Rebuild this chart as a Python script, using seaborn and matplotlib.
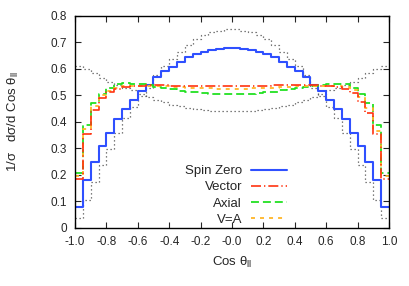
import numpy as np
import matplotlib
matplotlib.use("Agg")
import matplotlib.pyplot as plt
import seaborn as sns

# 40 bins of width 0.05 on [-1, 1]
bin_edges = np.linspace(-1.0, 1.0, 41)

spin_zero = [0.080, 0.180, 0.250, 0.310, 0.360, 0.410, 0.450, 0.483, 0.518, 0.540,
             0.569, 0.592, 0.609, 0.628, 0.644, 0.657, 0.665, 0.672, 0.677, 0.680,
             0.680, 0.677, 0.672, 0.665, 0.657, 0.644, 0.628, 0.609, 0.592, 0.569,
             0.540, 0.518, 0.483, 0.450, 0.410, 0.360, 0.310, 0.250, 0.180, 0.080]
vector = [0.185, 0.355, 0.445, 0.490, 0.512, 0.526, 0.532, 0.535, 0.537, 0.538,
          0.538, 0.538, 0.537, 0.537, 0.537, 0.537, 0.537, 0.537, 0.537, 0.537,
          0.537, 0.537, 0.537, 0.537, 0.537, 0.538, 0.538, 0.538, 0.538, 0.538,
          0.538, 0.537, 0.535, 0.531, 0.523, 0.510, 0.477, 0.433, 0.355, 0.185]
axial = [0.206, 0.390, 0.470, 0.505, 0.527, 0.543, 0.546, 0.545, 0.542, 0.538,
         0.533, 0.528, 0.523, 0.518, 0.515, 0.512, 0.509, 0.507, 0.505, 0.504,
         0.505, 0.506, 0.507, 0.509, 0.512, 0.515, 0.519, 0.523, 0.527, 0.531,
         0.535, 0.539, 0.543, 0.545, 0.543, 0.530, 0.505, 0.470, 0.390, 0.206]
v_eq_a = [0.195, 0.375, 0.460, 0.500, 0.518, 0.530, 0.535, 0.537, 0.537, 0.536,
          0.535, 0.534, 0.533, 0.531, 0.530, 0.529, 0.528, 0.527, 0.526, 0.525,
          0.525, 0.526, 0.527, 0.528, 0.529, 0.530, 0.531, 0.533, 0.534, 0.535,
          0.536, 0.537, 0.537, 0.536, 0.532, 0.520, 0.493, 0.452, 0.365, 0.195]
# the two unlabeled dotted gray curves
peaked = [0.037, 0.106, 0.175, 0.238, 0.297, 0.357, 0.414, 0.458, 0.497, 0.530,
          0.578, 0.613, 0.637, 0.665, 0.690, 0.712, 0.728, 0.738, 0.745, 0.750,
          0.750, 0.745, 0.738, 0.728, 0.712, 0.690, 0.665, 0.637, 0.613, 0.578,
          0.530, 0.497, 0.458, 0.414, 0.357, 0.297, 0.238, 0.175, 0.106, 0.037]
u_shape = [0.612, 0.600, 0.585, 0.567, 0.552, 0.540, 0.530, 0.520, 0.505, 0.494,
           0.484, 0.474, 0.466, 0.459, 0.453, 0.449, 0.446, 0.443, 0.442, 0.441,
           0.441, 0.442, 0.443, 0.446, 0.449, 0.453, 0.459, 0.466, 0.474, 0.484,
           0.494, 0.505, 0.520, 0.530, 0.540, 0.552, 0.567, 0.585, 0.600, 0.612]

x_ticks = np.round(np.arange(-1.0, 1.01, 0.2), 1)
y_ticks = np.round(np.arange(0.0, 0.81, 0.1), 1)

sns.set_style("ticks")
plt.rcParams["font.family"] = ["Liberation Sans", "DejaVu Sans"]
plt.rcParams["mathtext.fontset"] = "custom"
plt.rcParams["mathtext.rm"] = "Liberation Sans"
plt.rcParams["mathtext.it"] = "Liberation Sans:italic"

fig = plt.figure(figsize=(4.09, 2.86), dpi=100)
ax = fig.add_axes([0.1834, 0.2028, 0.7676, 0.7413])

centers = (bin_edges[:-1] + bin_edges[1:]) / 2

def step(vals, **kw):
    sns.histplot(x=centers, weights=np.asarray(vals), bins=bin_edges.tolist(),
                 element="step", fill=False, ax=ax, **kw)

step(peaked, color="#555555", linewidth=0.9, linestyle=(0, (1, 2.2)))
step(u_shape, color="#555555", linewidth=0.9, linestyle=(0, (1, 2.2)))
step(spin_zero, color="#2f50ff", linewidth=1.5, label="Spin Zero")
step(axial, color="#22e022", linewidth=1.3, linestyle=(0, (4.4, 2.2)), label="Axial")
step(v_eq_a, color="#ffb526", linewidth=1.3, linestyle=(0, (2.2, 2.8)), label="V=A")
step(vector, color="#ff3311", linewidth=1.2, linestyle=(0, (6, 1.8, 0.8, 1.8)), label="Vector")

ax.set_xlim(-1.0, 1.0)
ax.set_ylim(0, 0.8)
ax.set_xticks(x_ticks)
ax.set_xticklabels([f"{t:.1f}" for t in x_ticks])
ax.set_yticks(y_ticks)
ax.set_yticklabels(["0"] + [f"{t:.1f}" for t in y_ticks[1:]])
ax.tick_params(direction="in", top=True, right=True, length=4, width=0.8,
               labelsize=8.5, pad=6)
for s in ax.spines.values():
    s.set_linewidth(1.0)
    s.set_color("black")

ax.set_xlabel(r"Cos θ$_{\rm ll}$", fontsize=9.5)
ax.set_ylabel(r"1/σ   dσ/d Cos θ$_{\rm ll}$", fontsize=9.5)
ax.xaxis.set_label_coords(0.5, -0.125)
ax.yaxis.set_label_coords(-0.172, 0.5)

handles = {l.get_label(): l for l in ax.lines}
order = ["Spin Zero", "Vector", "Axial", "V=A"]
ax.legend([handles[k] for k in order], order, loc="lower right",
          bbox_to_anchor=(0.675, 0.01), frameon=False, markerfirst=False,
          fontsize=9.5, handlelength=2.7, handletextpad=0.7, labelspacing=0.3,
          borderaxespad=0, borderpad=0)

fig.savefig("out.png", dpi=100)
